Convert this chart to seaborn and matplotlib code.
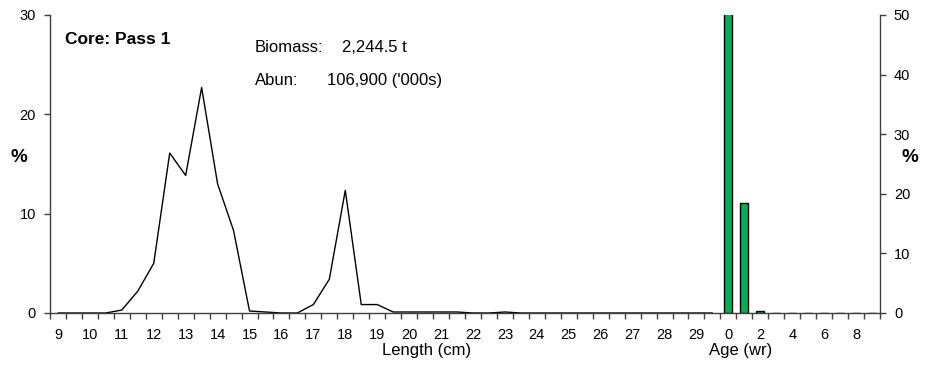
import numpy as np
import pandas as pd
import matplotlib
matplotlib.use("Agg")
import matplotlib.pyplot as plt
import seaborn as sns

# Length-frequency (% by 0.5 cm class) and age composition (%)
length_cm = [9 + 0.5 * i for i in range(42)]
length_pct = [0, 0, 0, 0, 0.3, 2.2, 5.0, 16.1, 13.85, 22.7, 13.0, 8.3, 0.2, 0.1,
              0, 0, 0.85, 3.4, 12.35, 0.85, 0.85, 0.1, 0.1, 0.1, 0.1, 0.1, 0, 0,
              0.1, 0, 0, 0, 0, 0, 0, 0, 0, 0, 0, 0, 0, 0]
ages = [0, 1, 2, 3, 4, 5, 6, 7, 8, 9]
age_pct = [81.3, 18.4, 0.3, 0, 0, 0, 0, 0, 0, 0]

title = "Core: Pass 1"
biomass_text = "2,244.5 t"
abun_text = "106,900 ('000s)"

sns.set_theme(style="white")
plt.rcParams["font.family"] = ["Liberation Sans", "DejaVu Sans"]
plt.rcParams["text.color"] = "black"
plt.rcParams["axes.labelcolor"] = "black"

n_len = len(length_cm)
n_age = len(ages)
n_all = n_len + n_age

len_df = pd.DataFrame({"pos": np.arange(n_len), "pct": length_pct})
age_df = pd.DataFrame({"pos": np.arange(n_len, n_all), "pct": age_pct})

fig = plt.figure(figsize=(9.25, 3.65), dpi=100)
ax = fig.add_axes([50 / 925, 52 / 365, 830 / 925, 298 / 365])
ax2 = ax.twinx()

sns.lineplot(data=len_df, x="pos", y="pct", ax=ax, color="black", linewidth=1.0)
sns.barplot(data=age_df, x="pos", y="pct", ax=ax2, native_scale=True,
            width=0.5, color="#00B050", edgecolor="black", linewidth=1.0,
            saturation=1)

ax.set_xlim(-0.5, n_all - 0.5)
ax.set_ylim(0, 30)
ax2.set_ylim(0, 50)
ax2.set_xlim(-0.5, n_all - 0.5)

spine_col = "#404040"
for a in (ax, ax2):
    for s in a.spines.values():
        s.set_color(spine_col)
        s.set_linewidth(1.0)
    a.spines["top"].set_visible(False)
    a.set_xlabel("")
    a.set_ylabel("")
ax.spines["right"].set_visible(False)
ax2.spines["left"].set_visible(False)
ax2.spines["bottom"].set_visible(False)

# Category boundaries as tick marks, labels at every other category centre
ax.set_xticks(np.arange(n_all + 1) - 0.5)
ax.set_xticklabels([])
ax.tick_params(axis="x", which="major", direction="out", length=4, width=1,
               color=spine_col, bottom=True)
lab_pos = list(range(0, n_len, 2)) + list(range(n_len, n_all, 2))
lab_txt = [f"{length_cm[i]:g}" for i in range(0, n_len, 2)] + \
          [str(ages[i - n_len]) for i in range(n_len, n_all, 2)]
ax.set_xticks(lab_pos, minor=True)
ax.set_xticklabels(lab_txt, minor=True)
ax.tick_params(axis="x", which="minor", length=0, pad=10.5, labelsize=10.5,
               labelcolor="black")

ax.set_yticks([0, 10, 20, 30])
ax.tick_params(axis="y", direction="out", length=4, width=1, color=spine_col,
               labelsize=10.5, labelcolor="black", left=True, pad=6)
ax2.set_yticks([0, 10, 20, 30, 40, 50])
ax2.tick_params(axis="y", direction="out", length=4, width=1, color=spine_col,
                labelsize=10.5, labelcolor="black", right=True, pad=6)

fig.text(19 / 925, 1 - 157 / 365, "%", fontsize=13.5, fontweight="bold",
         ha="center", va="center", color="black")
fig.text(910 / 925, 1 - 158 / 365, "%", fontsize=13.5, fontweight="bold",
         ha="center", va="center", color="black")
fig.text(427 / 925, 1 - 350 / 365, "Length (cm)", fontsize=12,
         ha="center", va="center", color="black")
fig.text(741 / 925, 1 - 350 / 365, "Age (wr)", fontsize=12,
         ha="center", va="center", color="black")

fig.text(65 / 925, 1 - 44 / 365, title, fontsize=12.5, fontweight="bold",
         ha="left", va="baseline", color="black")
fig.text(255 / 925, 1 - 52 / 365, "Biomass:", fontsize=12, ha="left",
         va="baseline", color="black")
fig.text(342 / 925, 1 - 52 / 365, biomass_text, fontsize=12, ha="left",
         va="baseline", color="black")
fig.text(255 / 925, 1 - 85 / 365, "Abun:", fontsize=12, ha="left",
         va="baseline", color="black")
fig.text(327 / 925, 1 - 85 / 365, abun_text, fontsize=12, ha="left",
         va="baseline", color="black")

fig.savefig("out.png", dpi=100)
